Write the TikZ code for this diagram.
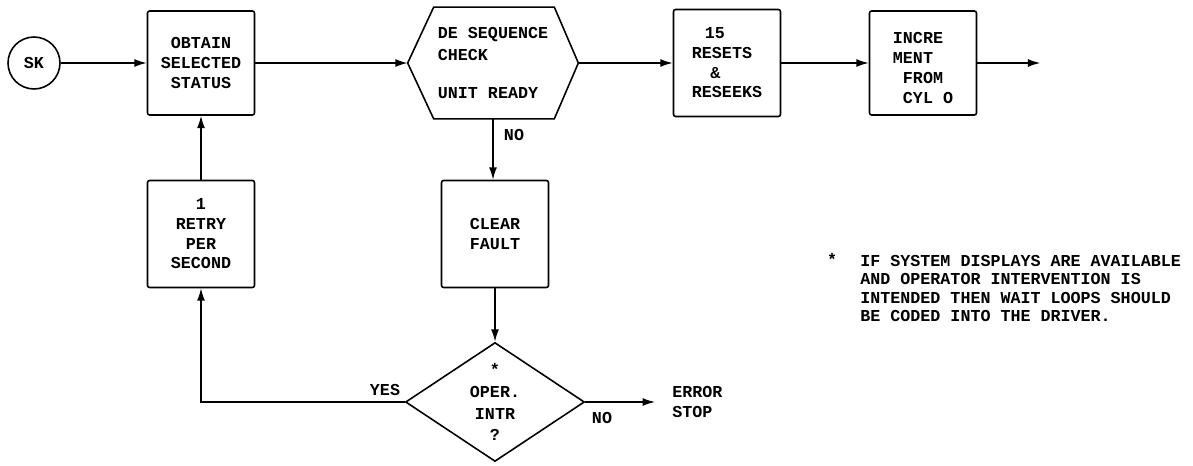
\documentclass[tikz,border=0pt]{standalone}
\usepackage{fontspec}
\setmonofont{Liberation Mono}
\usetikzlibrary{positioning, calc, arrows.meta, shapes.geometric}

\begin{document}
\begin{tikzpicture}[
  x=0.02cm, y=-0.02cm,
  every node/.style={font=\fontsize{9.5}{11.2}\selectfont\ttfamily\bfseries},
  box/.style={draw, line width=0.9pt, rounded corners=1.2pt, minimum width=2.14cm,
    minimum height=#1, align=center},
  box/.default=2.08cm,
  decision/.style={draw, diamond, line width=0.9pt, aspect=1.5, inner sep=0pt,
    minimum width=3.58cm, minimum height=2.38cm, align=center,
    font=\fontsize{9.5}{12.5}\selectfont\ttfamily\bfseries},
  flow/.style={line width=0.8pt, -{Latex[length=7pt,width=4.5pt]}},
  tag/.style={inner sep=0pt}
]
\useasboundingbox (0,0) rectangle (1193,466);

% start
\node[draw, circle, line width=0.9pt, minimum size=1.04cm] (sk) at (34,63) {SK};

% top row
\node[box] (obtain) at (201,63) {OBTAIN\\SELECTED\\STATUS};

\node[minimum width=3.4cm, minimum height=2.22cm, align=left,
  font=\fontsize{9.5}{12.5}\selectfont\ttfamily\bfseries] (check) at (493,63)
  {DE SEQUENCE\\CHECK\\[9pt]UNIT READY};
\draw[line width=0.9pt] (check.west) -- ($(check.north west)+(26,0)$)
  -- ($(check.north east)+(-24,0)$) -- (check.east)
  -- ($(check.south east)+(-24,0)$) -- ($(check.south west)+(26,0)$) -- cycle;

\node[box=2.14cm, align=left] (resets) at (727,63)
  {\hspace{0.78em}15\\RESETS\\\hspace{1.1em}\&\\RESEEKS};

\node[box] (incr) at (923,63) {};
\node[align=left, tag] (incrtxt) at ($(incr.center)+(0,5)$)
  {INCRE\\MENT\\\hspace{0.6em}FROM\\\hspace{0.6em}CYL O};
\coordinate (out) at ($(incr.east)+(63,0)$);

% lower part
\node[box=2.14cm] (retry) at (201,234) {1\\RETRY\\PER\\SECOND};
\node[box=2.14cm] (clear) at (495,234) {CLEAR\\FAULT};
\node[decision] (oper) at (495,402) {*\\OPER.\\INTR\\?};
\node[align=left, anchor=west, inner xsep=0.34cm] (err) at (655,402) {ERROR\\STOP};

% connectors
\draw[flow] (sk) -- (obtain);
\draw[flow] (obtain) -- (check.west);
\draw[flow] (check.east) -- (resets);
\draw[flow] (resets) -- (incr);
\draw[flow] (incr) -- (out);
\draw[flow] (check.south) -- (check.south |- clear.north);
\draw[flow] (clear) -- (oper);
\draw[flow] (oper.west) -| (retry.south);
\draw[flow] (retry) -- (obtain);
\draw[flow] (oper.east) -- (err.west);

% labels
\node[tag] (nocheck) at (514,135) {NO};
\node[tag] (yes) at (385,390) {YES};
\node[tag] (nooper) at (602,418) {NO};

% note
\node[tag] (star) at (832,259) {*};
\node[tag, anchor=north west, align=left,
  font=\fontsize{9.5}{10.5}\selectfont\ttfamily\bfseries] (note) at (860,255)
  {IF SYSTEM DISPLAYS ARE AVAILABLE\\AND OPERATOR INTERVENTION IS\\
   INTENDED THEN WAIT LOOPS SHOULD\\BE CODED INTO THE DRIVER.};

\end{tikzpicture}
\end{document}
